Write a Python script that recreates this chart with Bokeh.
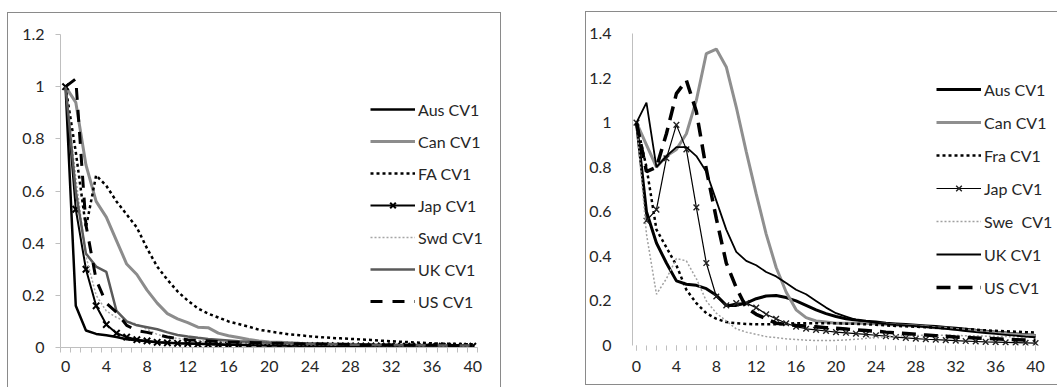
from bokeh.plotting import figure
from bokeh.models import FixedTicker, Legend, LegendItem
from bokeh.layouts import row
from bokeh.embed import file_html
from bokeh.resources import INLINE

# ---------------- data ----------------
lags = list(range(41))

x_tick_values = [0, 4, 8, 12, 16, 20, 24, 28, 32, 36, 40]

left_y_ticks = [0, 0.2, 0.4, 0.6, 0.8, 1, 1.2]
left_y_labels = ["0", "0.2", "0.4", "0.6", "0.8", "1", "1.2"]
right_y_ticks = [0, 0.2, 0.4, 0.6, 0.8, 1, 1.2, 1.4]
right_y_labels = ["0", "0.2", "0.4", "0.6", "0.8", "1", "1.2", "1.4"]

# Left chart
left_names = ["Aus CV1", "Can CV1", "FA CV1", "Jap CV1", "Swd CV1", "UK CV1", "US CV1"]
L_aus = [1, 0.16, 0.065, 0.052, 0.047, 0.04, 0.032, 0.028, 0.024, 0.02, 0.018,
         0.016, 0.015, 0.014, 0.013, 0.012, 0.011, 0.011, 0.010, 0.010, 0.009,
         0.009, 0.008, 0.008, 0.008, 0.007, 0.007, 0.007, 0.006, 0.006, 0.006,
         0.006, 0.005, 0.005, 0.005, 0.005, 0.005, 0.004, 0.004, 0.004, 0.004]
L_can = [1, 0.94, 0.7, 0.56, 0.5, 0.41, 0.32, 0.28, 0.22, 0.17, 0.13,
         0.11, 0.095, 0.078, 0.076, 0.055, 0.045, 0.038, 0.031, 0.025, 0.021,
         0.02, 0.018, 0.016, 0.015, 0.014, 0.013, 0.012, 0.012, 0.011, 0.011,
         0.010, 0.010, 0.010, 0.009, 0.009, 0.009, 0.008, 0.008, 0.008, 0.008]
L_fa = [1, 0.75, 0.46, 0.66, 0.62, 0.56, 0.51, 0.46, 0.38, 0.31, 0.26,
        0.215, 0.18, 0.15, 0.13, 0.115, 0.1, 0.09, 0.08, 0.068, 0.062,
        0.056, 0.05, 0.047, 0.043, 0.04, 0.037, 0.035, 0.033, 0.031, 0.029,
        0.026, 0.024, 0.022, 0.02, 0.018, 0.016, 0.015, 0.014, 0.013, 0.012]
L_jap = [1, 0.53, 0.3, 0.16, 0.088, 0.055, 0.04, 0.03, 0.025, 0.02, 0.018,
         0.016, 0.015, 0.013, 0.012, 0.011, 0.010, 0.010, 0.009, 0.009, 0.008,
         0.008, 0.008, 0.007, 0.007, 0.007, 0.007, 0.006, 0.006, 0.006, 0.006,
         0.006, 0.006, 0.005, 0.005, 0.005, 0.005, 0.005, 0.005, 0.005, 0.005]
L_swd = [1, 0.65, 0.35, 0.2, 0.14, 0.115, 0.1, 0.09, 0.07, 0.05, 0.04,
         0.035, 0.03, 0.027, 0.024, 0.022, 0.02, 0.018, 0.016, 0.015, 0.014,
         0.013, 0.012, 0.011, 0.011, 0.010, 0.010, 0.009, 0.009, 0.009, 0.008,
         0.008, 0.008, 0.007, 0.007, 0.007, 0.007, 0.006, 0.006, 0.006, 0.006]
L_uk = [1, 0.6, 0.36, 0.31, 0.29, 0.14, 0.1, 0.085, 0.078, 0.07, 0.058,
        0.048, 0.042, 0.037, 0.033, 0.03, 0.027, 0.024, 0.022, 0.02, 0.018,
        0.017, 0.016, 0.015, 0.014, 0.013, 0.012, 0.012, 0.011, 0.011, 0.010,
        0.010, 0.010, 0.009, 0.009, 0.009, 0.008, 0.008, 0.008, 0.008, 0.008]
L_us = [1, 1.03, 0.47, 0.26, 0.17, 0.135, 0.085, 0.065, 0.058, 0.05, 0.04,
        0.035, 0.03, 0.027, 0.025, 0.023, 0.021, 0.02, 0.019, 0.018, 0.017,
        0.016, 0.015, 0.014, 0.013, 0.013, 0.012, 0.012, 0.011, 0.011, 0.010,
        0.010, 0.010, 0.009, 0.009, 0.009, 0.009, 0.008, 0.008, 0.008, 0.008]

# Right chart
right_names = ["Aus CV1", "Can CV1", "Fra CV1", "Jap CV1", "Swe  CV1", "UK CV1", "US CV1"]
R_aus = [1, 0.6, 0.46, 0.37, 0.29, 0.275, 0.27, 0.255, 0.225, 0.18, 0.18,
         0.19, 0.21, 0.222, 0.224, 0.215, 0.2, 0.18, 0.16, 0.143, 0.13,
         0.12, 0.114, 0.109, 0.105, 0.1, 0.097, 0.094, 0.091, 0.088, 0.085,
         0.081, 0.077, 0.073, 0.068, 0.064, 0.06, 0.056, 0.052, 0.048, 0.045]
R_can = [1, 0.9, 0.8, 0.85, 0.88, 0.95, 1.1, 1.31, 1.33, 1.25, 1.07,
         0.87, 0.68, 0.5, 0.35, 0.24, 0.16, 0.125, 0.11, 0.105, 0.1,
         0.1, 0.1, 0.1, 0.098, 0.095, 0.092, 0.09, 0.087, 0.084, 0.08,
         0.077, 0.073, 0.07, 0.066, 0.062, 0.058, 0.054, 0.05, 0.047, 0.044]
R_fra = [1, 0.8, 0.52, 0.44, 0.36, 0.25, 0.19, 0.145, 0.12, 0.105, 0.1,
         0.097, 0.095, 0.095, 0.095, 0.097, 0.1, 0.1, 0.1, 0.1, 0.1,
         0.098, 0.097, 0.095, 0.093, 0.09, 0.088, 0.086, 0.084, 0.082, 0.08,
         0.078, 0.076, 0.074, 0.071, 0.068, 0.066, 0.064, 0.062, 0.06, 0.058]
R_jap = [1, 0.56, 0.61, 0.84, 0.99, 0.88, 0.62, 0.37, 0.22, 0.18, 0.19,
         0.19, 0.17, 0.14, 0.12, 0.1, 0.085, 0.075, 0.07, 0.065, 0.06,
         0.057, 0.053, 0.05, 0.046, 0.042, 0.038, 0.034, 0.031, 0.028, 0.026,
         0.024, 0.022, 0.02, 0.018, 0.016, 0.015, 0.014, 0.013, 0.012, 0.011]
R_swe = [1, 0.5, 0.23, 0.3, 0.39, 0.38, 0.3, 0.2, 0.145, 0.11, 0.075,
         0.06, 0.05, 0.04, 0.035, 0.03, 0.027, 0.024, 0.022, 0.022, 0.023,
         0.025, 0.028, 0.032, 0.036, 0.04, 0.042, 0.044, 0.045, 0.046, 0.046,
         0.046, 0.045, 0.044, 0.043, 0.042, 0.041, 0.04, 0.039, 0.038, 0.037]
R_uk = [1, 1.09, 0.8, 0.85, 0.89, 0.89, 0.85, 0.78, 0.65, 0.52, 0.42,
        0.38, 0.36, 0.33, 0.31, 0.28, 0.25, 0.23, 0.2, 0.17, 0.145,
        0.13, 0.115, 0.108, 0.102, 0.097, 0.093, 0.09, 0.087, 0.083, 0.079,
        0.075, 0.07, 0.065, 0.06, 0.056, 0.052, 0.048, 0.044, 0.04, 0.037]
R_us = [1, 0.78, 0.8, 0.95, 1.13, 1.19, 1.05, 0.79, 0.57, 0.37, 0.26,
        0.17, 0.14, 0.12, 0.1, 0.095, 0.09, 0.087, 0.084, 0.08, 0.077,
        0.074, 0.07, 0.067, 0.064, 0.06, 0.057, 0.054, 0.05, 0.047, 0.044,
        0.041, 0.038, 0.036, 0.034, 0.032, 0.03, 0.028, 0.026, 0.025, 0.024]

FONT = "Lato"
TXT = "#262626"
AX = "#bfbfbf"


def style_axes(p, y_ticks, y_labels, minor_ticks, y_tick_out, y_standoff,
               x_line, x_standoff, major_x_tick, x_bounds):
    p.grid.visible = False
    p.outline_line_color = None
    p.background_fill_color = "white"
    p.border_fill_color = "white"
    ya = p.yaxis[0]
    ya.ticker = FixedTicker(ticks=y_ticks, minor_ticks=[])
    ya.major_label_overrides = {t: l for t, l in zip(y_ticks, y_labels)}
    ya.axis_line_color = AX
    ya.major_tick_line_color = AX if y_tick_out else None
    ya.major_tick_out = y_tick_out
    ya.major_tick_in = 0
    ya.minor_tick_line_color = None
    ya.major_label_standoff = y_standoff
    ya.major_label_text_font = FONT
    ya.major_label_text_font_size = "16px"
    ya.major_label_text_color = TXT
    xa = p.xaxis[0]
    xa.bounds = x_bounds
    xa.ticker = FixedTicker(ticks=x_tick_values, minor_ticks=minor_ticks)
    xa.axis_line_color = AX if x_line else None
    xa.major_tick_line_color = AX if major_x_tick else None
    xa.major_tick_out = 5
    xa.major_tick_in = 0
    xa.minor_tick_line_color = AX
    xa.minor_tick_out = 5
    xa.minor_tick_in = 0
    xa.major_label_standoff = x_standoff
    xa.major_label_text_font = FONT
    xa.major_label_text_font_size = "16px"
    xa.major_label_text_color = TXT


def make_legend(p, items, x, y, spacing):
    leg = Legend(items=items, location=(x, y), orientation="vertical",
                 glyph_width=45, glyph_height=20, label_height=20,
                 spacing=spacing, padding=0, margin=0, label_standoff=3,
                 border_line_color=None, background_fill_alpha=0,
                 label_text_font=FONT, label_text_font_size="16px",
                 label_text_color=TXT)
    p.add_layout(leg, "center")


# ---------------- left chart ----------------
p1 = figure(width=494, height=375, x_range=(-0.5, 41.74), y_range=(0, 1.2),
            output_backend="svg", toolbar_location=None,
            min_border_left=52, min_border_right=12, min_border_top=20,
            min_border_bottom=38)
p1.styles = {"border-left": "1px solid #8a8a8a", "border-top": "1px solid #8a8a8a",
             "border-right": "1px solid #8a8a8a"}
p1.margin = (12, 0, 0, 7)

l_items = []
r = p1.line(lags, L_aus, line_color="black", line_width=2.5)
l_items.append(LegendItem(label=left_names[0], renderers=[r]))
r = p1.line(lags, L_can, line_color="#8c8c8c", line_width=3)
l_items.append(LegendItem(label=left_names[1], renderers=[r]))
r = p1.line(lags, L_fa, line_color="black", line_width=2.5, line_dash="3 3")
l_items.append(LegendItem(label=left_names[2], renderers=[r]))
r1 = p1.line(lags, L_jap, line_color="black", line_width=2)
r2 = p1.scatter(lags, L_jap, marker="x", size=9, line_color="black", line_width=2)
l_items.append(LegendItem(label=left_names[3], renderers=[r1, r2]))
r = p1.line(lags, L_swd, line_color="#a6a6a6", line_width=1.5, line_dash="2 2")
l_items.append(LegendItem(label=left_names[4], renderers=[r]))
r = p1.line(lags, L_uk, line_color="#5a5a5a", line_width=2.5)
l_items.append(LegendItem(label=left_names[5], renderers=[r]))
r = p1.line(lags, L_us, line_color="black", line_width=3, line_dash="12 10")
l_items.append(LegendItem(label=left_names[6], renderers=[r]))

style_axes(p1, left_y_ticks, left_y_labels, [i - 0.5 for i in range(42)],
           5, 11, True, 8, False, (-0.5, 40.5))
make_legend(p1, l_items, 310, 36, 12)

# ---------------- right chart ----------------
p2 = figure(width=472, height=374, x_range=(-0.4, 42.1), y_range=(0, 1.4),
            output_backend="svg", toolbar_location=None,
            min_border_left=45, min_border_right=2, min_border_top=21,
            min_border_bottom=41)
p2.styles = {"border-left": "1px solid #8a8a8a", "border-top": "1px solid #8a8a8a",
             "border-bottom": "1px solid #8a8a8a"}
p2.margin = (11, 0, 0, 84)

r_items = []
r = p2.line(lags, R_aus, line_color="black", line_width=3)
r_items.append(LegendItem(label=right_names[0], renderers=[r]))
r = p2.line(lags, R_can, line_color="#8f8f8f", line_width=3)
r_items.append(LegendItem(label=right_names[1], renderers=[r]))
r = p2.line(lags, R_fra, line_color="black", line_width=2.5, line_dash="3 3")
r_items.append(LegendItem(label=right_names[2], renderers=[r]))
r1 = p2.line(lags, R_jap, line_color="black", line_width=1.2)
r2 = p2.scatter(lags, R_jap, marker="x", size=8, line_color="#222222", line_width=1.4)
r_items.append(LegendItem(label=right_names[3], renderers=[r1, r2]))
r = p2.line(lags, R_swe, line_color="#a0a0a0", line_width=1.5, line_dash="2 2")
r_items.append(LegendItem(label=right_names[4], renderers=[r]))
r = p2.line(lags, R_uk, line_color="black", line_width=1.8)
r_items.append(LegendItem(label=right_names[5], renderers=[r]))
r = p2.line(lags, R_us, line_color="black", line_width=3.5, line_dash="14 8")
r_items.append(LegendItem(label=right_names[6], renderers=[r]))

style_axes(p2, right_y_ticks, right_y_labels, list(range(41)),
           0, 21, False, 10, True, (-0.4, 40.3))
make_legend(p2, r_items, 304, 48, 13)

layout = row(p1, p2)
open("out.html", "w").write(file_html(layout, INLINE))
